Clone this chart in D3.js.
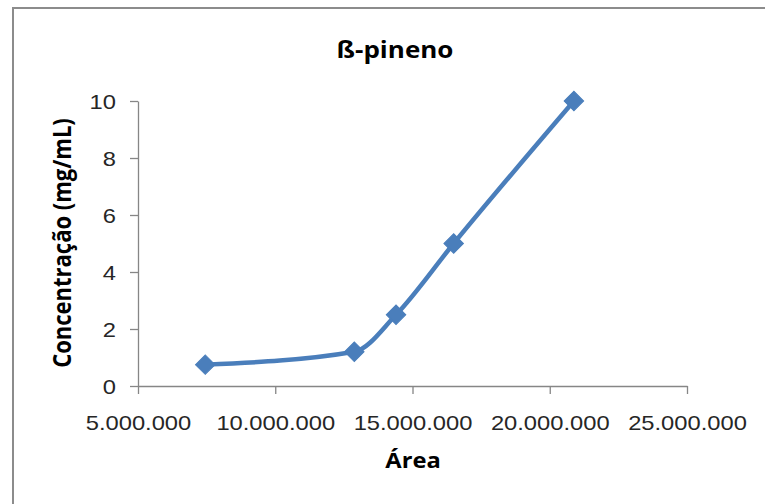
<!DOCTYPE html>
<html>
<head>
<meta charset="utf-8">
<script src="https://cdn.jsdelivr.net/npm/d3@7"></script>
<style>
  body { margin: 0; background: #fff; }
  svg { display: block; font-family: "Open Sans", "Noto Sans", sans-serif; }
</style>
</head>
<body>
<div class="visHolder"></div>
<script>
// data
var areas = [7450000, 12880000, 14400000, 16500000, 20880000];
var concs = [0.75, 1.2, 2.5, 5, 10];
var xTicks = [5000000, 10000000, 15000000, 20000000, 25000000];
var yTicks = [0, 2, 4, 6, 8, 10];

var width = 765,
    height = 504,
    stretch = 1.13; // the picture is a bit wider than tall, text looks stretched

var svg = d3.select('.visHolder').append('svg')
  .attr('width', width)
  .attr('height', height);

// chart border (runs off the right / bottom edge)
svg.append('rect')
  .attr('x', 13)
  .attr('y', 8)
  .attr('width', 900)
  .attr('height', 700)
  .style('fill', 'none')
  .style('stroke', '#8c8c8c')
  .style('stroke-width', 2);

var xScale = d3.scaleLinear().domain([5000000, 25000000]).range([138, 687]);
var yScale = d3.scaleLinear().domain([0, 10]).range([386, 101]);

var fmt = d3.formatLocale({ decimal: ',', thousands: '.', grouping: [3], currency: ['', ''] }).format(',');

var xAxis = d3.axisBottom(xScale)
  .tickValues(xTicks)
  .tickFormat(fmt)
  .tickSize(8)
  .tickSizeOuter(0)
  .tickPadding(21);

var yAxis = d3.axisLeft(yScale)
  .tickValues(yTicks)
  .tickSize(8)
  .tickSizeOuter(0);

var xg = svg.append('g')
  .attr('transform', 'translate(0,386)')
  .call(xAxis);

var yg = svg.append('g')
  .attr('transform', 'translate(138,0)')
  .call(yAxis);

[xg, yg].forEach(function(g) {
  g.select('.domain').attr('stroke', '#868686').attr('stroke-width', 1.3);
  g.selectAll('.tick line').attr('stroke', '#868686').attr('stroke-width', 1.3);
  g.selectAll('.tick text')
    .style('font-size', '21px')
    .style('fill', '#262626')
    .attr('transform', 'scale(' + stretch + ',1)');
});
yg.selectAll('.tick text').attr('x', -19.5).attr('dy', '0.36em');

// title
svg.append('text')
  .attr('transform', 'translate(395,58) scale(' + stretch + ',1)')
  .attr('text-anchor', 'middle')
  .style('font-size', '23px')
  .style('font-weight', 'bold')
  .style('fill', '#000')
  .text('ß-pineno');

// axis titles
svg.append('text')
  .attr('transform', 'translate(413,468) scale(' + stretch + ',1)')
  .attr('text-anchor', 'middle')
  .style('font-size', '21px')
  .style('font-weight', 'bold')
  .style('fill', '#000')
  .text('Área');

svg.append('text')
  .attr('transform', 'translate(71,243) scale(' + stretch + ',1) rotate(-90)')
  .attr('text-anchor', 'middle')
  .style('font-size', '22px')
  .style('font-weight', 'bold')
  .style('fill', '#000')
  .text('Concentração (mg/mL)');

// smoothed line like excel
var line = d3.line()
  .x(function(d, i) { return xScale(areas[i]); })
  .y(function(d) { return yScale(d); })
  .curve(d3.curveMonotoneX);

svg.append('path')
  .datum(concs)
  .attr('d', line)
  .style('fill', 'none')
  .style('stroke', '#4a7ebb')
  .style('stroke-width', 4.5)
  .style('stroke-linejoin', 'round');

// diamond markers
svg.selectAll('.marker')
  .data(concs)
  .enter()
  .append('path')
  .attr('class', 'marker')
  .attr('d', d3.symbol().type(d3.symbolSquare).size(190))
  .attr('transform', function(d, i) {
    return 'translate(' + xScale(areas[i]) + ',' + yScale(d) + ') rotate(45)';
  })
  .style('fill', '#4a7ebb')
  .style('stroke', '#4a7ebb')
  .style('stroke-width', 1);
</script>
</body>
</html>
